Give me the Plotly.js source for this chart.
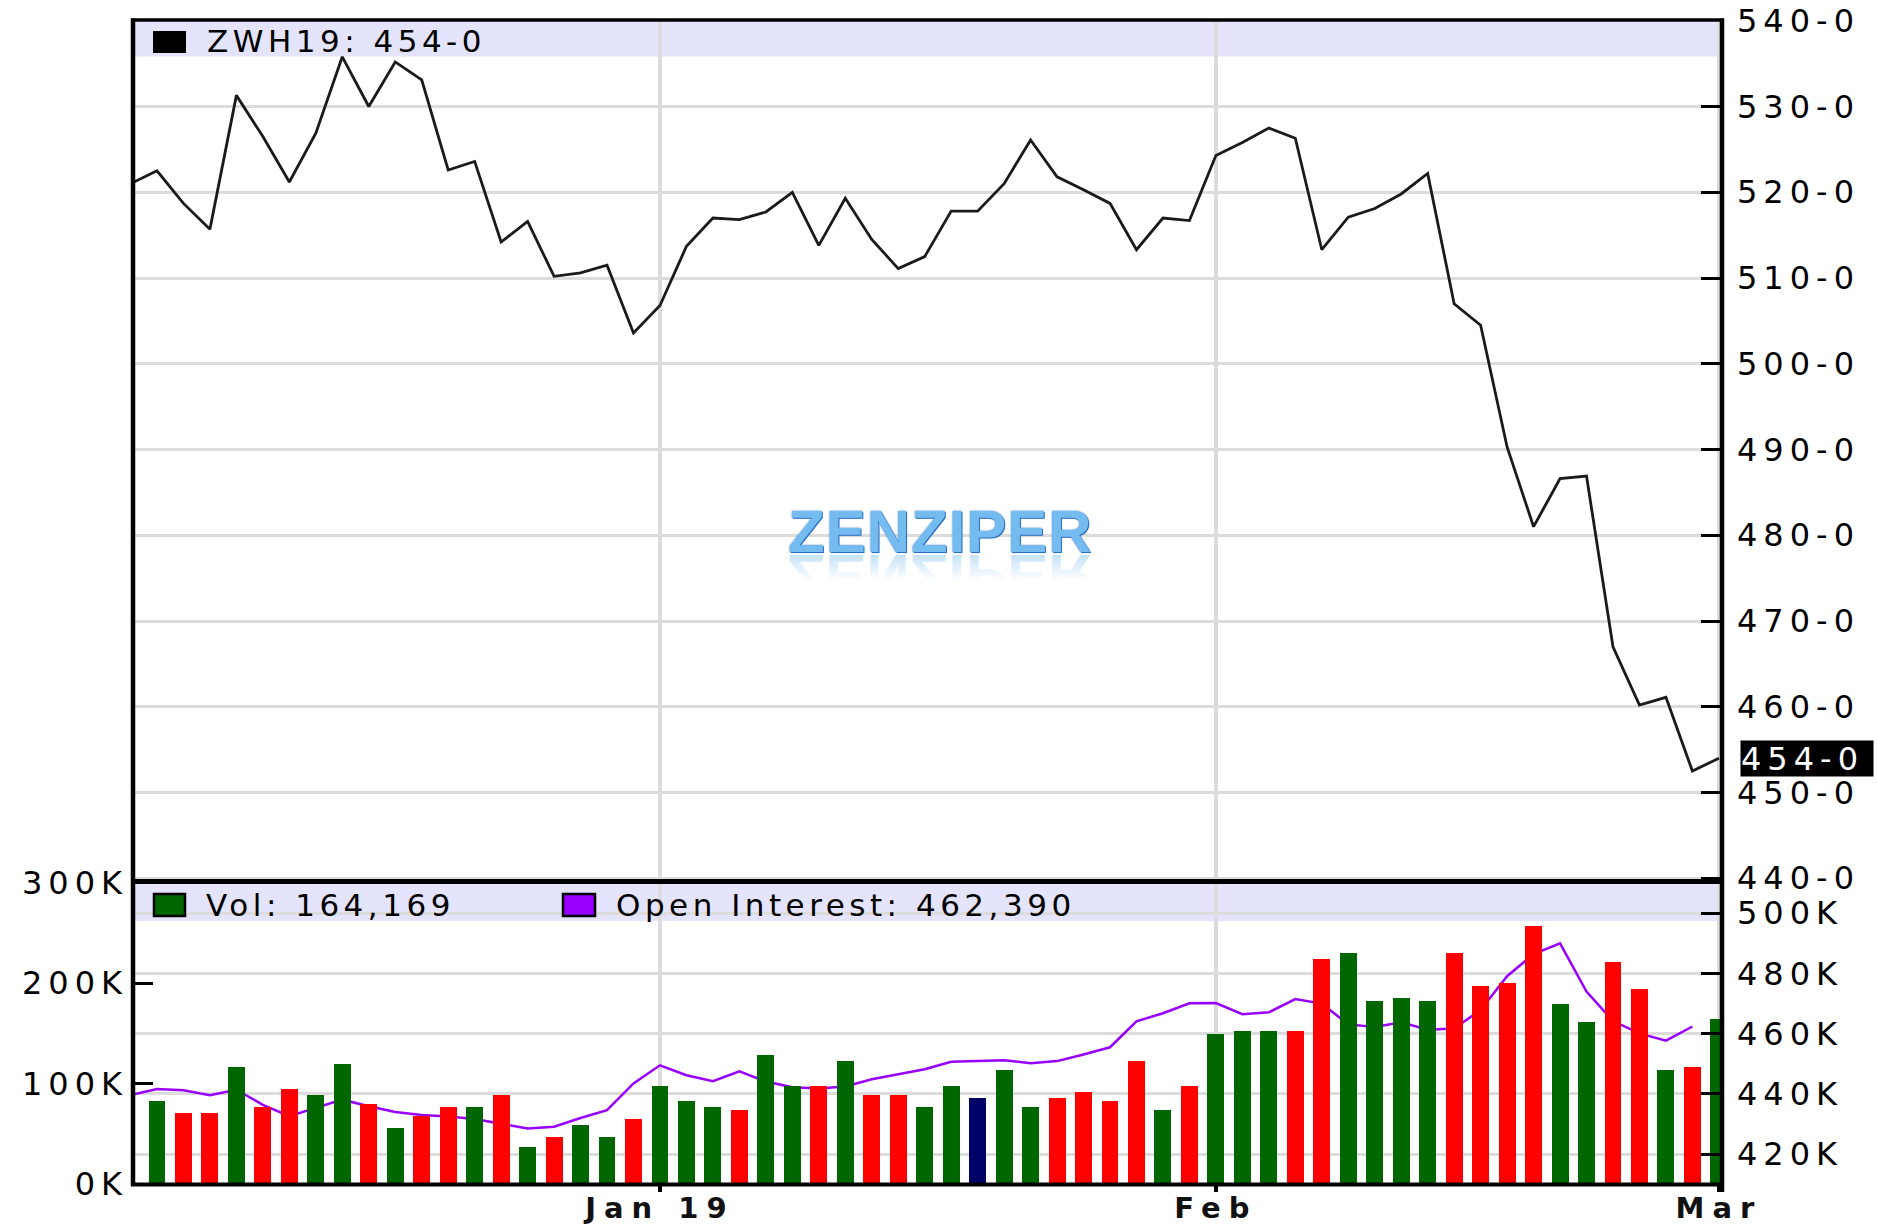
<!DOCTYPE html>
<html>
<head>
<meta charset="utf-8">
<script src="https://cdn.plot.ly/plotly-3.0.1.min.js"></script>
<style>
body { margin: 0; background: #fff; }
#chart .ytick text, #chart .y2tick text, #chart .y3tick text { letter-spacing: 6px; }
#chart .xtick text { letter-spacing: 8px; }
#chart .annotation-text { letter-spacing: 4.5px; }
#chart .annotation[data-index="0"] .annotation-text { letter-spacing: 1px; }
#chart .annotation[data-index="4"] .annotation-text { letter-spacing: 6px; }
</style>
</head>
<body>
<div id="chart" style="width:1877px;height:1228px;"></div>
<script>
// ---------- DATA ----------
const dates = [
  '2018-11-30',
  '2018-12-03','2018-12-04','2018-12-06','2018-12-07','2018-12-10','2018-12-11','2018-12-12','2018-12-13','2018-12-14',
  '2018-12-17','2018-12-18','2018-12-19','2018-12-20','2018-12-21','2018-12-24','2018-12-26','2018-12-27','2018-12-28','2018-12-31',
  '2019-01-02','2019-01-03','2019-01-04','2019-01-07','2019-01-08','2019-01-09','2019-01-10','2019-01-11','2019-01-14','2019-01-15',
  '2019-01-16','2019-01-17','2019-01-18','2019-01-22','2019-01-23','2019-01-24','2019-01-25','2019-01-28','2019-01-29','2019-01-30','2019-01-31',
  '2019-02-01','2019-02-04','2019-02-05','2019-02-06','2019-02-07','2019-02-08','2019-02-11','2019-02-12','2019-02-13','2019-02-14',
  '2019-02-15','2019-02-19','2019-02-20','2019-02-21','2019-02-22','2019-02-25','2019-02-26','2019-02-27','2019-02-28',
  '2019-03-01'
];

// ZWH19 close (cents/bushel)
const closePrice = [
  521.0, 522.5, 518.7, 515.7, 531.3, 526.5, 521.2, 526.9, 535.8, 530.0,
  535.2, 533.1, 522.6, 523.6, 514.2, 516.6, 510.2, 510.6, 511.5, 503.6,
  506.8, 513.7, 517.0, 516.8, 517.7, 520.0, 513.8, 519.3, 514.5, 511.1,
  512.5, 517.8, 517.8, 521.0, 526.1, 521.8, 520.3, 518.7, 513.3, 517.0,
  516.7, 524.3, 525.8, 527.5, 526.3, 513.3, 517.1, 518.1, 519.8, 522.2,
  507.0, 504.5, 490.3, 481.0, 486.6, 486.9, 467.0, 460.2, 461.1, 452.5, 454.0
];

// Volume (thousands of contracts)
const volumeK = [
  null, 83, 71, 71, 116, 77, 95, 89, 119, 80,
  56, 68, 77, 77, 89, 37, 47, 59, 47, 65,
  98, 83, 77, 74, 128, 98, 98, 122, 89, 89,
  77, 98, 86, 113, 77, 86, 92, 83, 122, 74,
  98, 149, 152, 152, 152, 224, 230, 182, 185, 182,
  230, 197, 200, 257, 179, 161, 221, 194, 113, 116, 164.169
];

// Open interest (thousands of contracts)
const openInterestK = [
  439.6, 441.6, 441.2, 439.6, 441.4, 436.4, 432.6, 435.3, 438.1, 435.9,
  434.0, 433.0, 432.5, 431.7, 430.1, 428.5, 429.1, 432.0, 434.6, 443.5,
  449.5, 446.2, 444.2, 447.5, 444.1, 442.2, 441.8, 442.5, 444.9, 446.6,
  448.2, 450.7, 451.0, 451.2, 450.2, 450.9, 453.1, 455.5, 464.1, 466.8,
  470.1, 470.2, 466.5, 467.1, 471.5, 470.0, 463.1, 462.2, 463.8, 461.3,
  461.7, 467.9, 479.1, 486.4, 490.0, 474.0, 464.2, 460.1, 457.7, 462.39, null
];

const priceTicks = [440, 450, 460, 470, 480, 490, 500, 510, 520, 530, 540];
const priceTickText = ['440-0','450-0','460-0','470-0','480-0','490-0','500-0','510-0','520-0','530-0','540-0'];
const volTicks = [0, 100, 200, 300];
const volTickText = ['0K','100K','200K','300K'];
const oiTicks = [420, 440, 460, 480, 500];
const oiTickText = ['420K','440K','460K','480K','500K'];
const monthTicks = ['2019-01-02','2019-02-01','2019-03-01'];
const monthTickText = ['Jan 19','Feb','Mar'];

const symbolLabel = 'ZWH19: 454-0';
const volLabel = 'Vol: 164,169';
const oiLabel = 'Open Interest: 462,390';
const lastPriceLabel = '454-0';
const lastPrice = 454;
const watermark = 'ZENZIPER';

// ---------- STYLE / LAYOUT ----------
const W = 1877, H = 1228;
const px = x => x / W;
const py = y => 1 - y / H;
const FONT = 'DejaVu Sans, Liberation Sans, sans-serif';
const WM_FONT = 'Liberation Sans, Arial, sans-serif';
const UP = '#006600', DOWN = '#ff0000', UNCH = '#000066';

const barColors = volumeK.map((v, i) => {
  if (i === 0) return UP;
  const d = closePrice[i] - closePrice[i - 1];
  return d > 0 ? UP : (d < 0 ? DOWN : UNCH);
});

// mirrored, fading reflection of the watermark (decorative graphic)
const reflSvg =
  '<svg xmlns="http://www.w3.org/2000/svg" width="320" height="46" viewBox="0 0 320 46">' +
  '<defs><linearGradient id="g" x1="0" y1="0" x2="0" y2="1">' +
  '<stop offset="0.42" stop-color="#8cc6f2" stop-opacity="0"/>' +
  '<stop offset="1" stop-color="#8cc6f2" stop-opacity="0.75"/>' +
  '</linearGradient></defs>' +
  '<text x="160" y="0" transform="scale(1,-1)" text-anchor="middle" font-family="Liberation Sans, Arial, sans-serif" ' +
  'font-weight="bold" font-size="60" letter-spacing="1" fill="url(#g)">' + watermark + '</text></svg>';

const traces = [
  { type: 'scatter', mode: 'lines', x: dates, y: openInterestK, xaxis: 'x', yaxis: 'y2',
    line: { color: '#9900ff', width: 2.5 }, connectgaps: false, hoverinfo: 'skip' },
  { type: 'bar', x: dates, y: volumeK, xaxis: 'x', yaxis: 'y3',
    marker: { color: barColors, line: { width: 0 } }, width: 0.64, hoverinfo: 'skip' },
  { type: 'scatter', mode: 'lines', x: dates, y: closePrice, xaxis: 'x', yaxis: 'y',
    line: { color: '#1a1a1a', width: 2.8 }, hoverinfo: 'skip' }
];

const gridColor = '#dcdcdc';
const tickFont = { family: FONT, size: 32, color: '#000' };
const legendFont = { family: FONT, size: 31, color: '#000' };

const layout = {
  width: W, height: H,
  margin: { l: 0, r: 0, t: 0, b: 0 },
  paper_bgcolor: '#fff', plot_bgcolor: '#fff',
  showlegend: false, hovermode: false, dragmode: false,
  bargap: 0,
  xaxis: {
    type: 'category', domain: [px(133), px(1721)], anchor: 'y2',
    range: [0.094, 60.08],
    tickmode: 'array', tickvals: monthTicks, ticktext: monthTickText,
    ticks: 'outside', ticklen: 7, tickwidth: 4, tickcolor: '#000',
    showgrid: true, gridcolor: gridColor, gridwidth: 4,
    showline: false, zeroline: false,
    tickfont: { family: FONT, size: 29, color: '#111', weight: 'bold' },
    ticklabelstandoff: -9
  },
  yaxis: {
    domain: [py(881), py(20)], anchor: 'x', side: 'right',
    range: [439.68, 540.09],
    tickmode: 'array', tickvals: priceTicks, ticktext: priceTickText,
    ticks: 'inside', ticklen: 20, tickwidth: 3, tickcolor: '#000',
    showgrid: true, gridcolor: gridColor, gridwidth: 3,
    showline: false, zeroline: false, tickfont: tickFont,
    ticklabelstandoff: 15
  },
  yaxis2: {
    domain: [py(1184), py(881)], anchor: 'x', side: 'right',
    range: [410.1, 510.7],
    tickmode: 'array', tickvals: oiTicks, ticktext: oiTickText,
    ticks: 'inside', ticklen: 20, tickwidth: 3, tickcolor: '#000',
    showgrid: true, gridcolor: gridColor, gridwidth: 3,
    showline: false, zeroline: false, tickfont: tickFont,
    ticklabelstandoff: 15
  },
  yaxis3: {
    domain: [py(1184), py(881)], anchor: 'x', side: 'left', overlaying: 'y2',
    range: [0, 301.5],
    tickmode: 'array', tickvals: volTicks, ticktext: volTickText,
    ticks: 'inside', ticklen: 20, tickwidth: 3, tickcolor: '#000',
    showgrid: false, showline: false, zeroline: false, tickfont: tickFont,
    ticklabelstandoff: 4
  },
  images: [
    { source: 'data:image/svg+xml;charset=utf-8,' + encodeURIComponent(reflSvg),
      xref: 'paper', yref: 'paper', x: px(940), y: py(555),
      sizex: 320 / W, sizey: 46 / H, xanchor: 'center', yanchor: 'top',
      sizing: 'stretch', layer: 'above' }
  ],
  shapes: [
    // legend bands
    { type: 'rect', xref: 'paper', yref: 'paper', layer: 'between',
      x0: px(135), x1: px(1717), y0: py(56.5), y1: py(21),
      fillcolor: 'rgba(205,205,250,0.55)', line: { width: 0 } },
    { type: 'rect', xref: 'paper', yref: 'paper', layer: 'between',
      x0: px(135), x1: px(1717), y0: py(921), y1: py(884),
      fillcolor: 'rgba(205,205,250,0.55)', line: { width: 0 } },
    // legend swatches
    { type: 'rect', xref: 'paper', yref: 'paper', layer: 'above',
      x0: px(153), x1: px(186), y0: py(53), y1: py(31),
      fillcolor: '#000', line: { width: 0 } },
    { type: 'rect', xref: 'paper', yref: 'paper', layer: 'above',
      x0: px(154), x1: px(185), y0: py(916), y1: py(894),
      fillcolor: UP, line: { color: '#000', width: 2.5 } },
    { type: 'rect', xref: 'paper', yref: 'paper', layer: 'above',
      x0: px(563), x1: px(595), y0: py(916), y1: py(894),
      fillcolor: '#9900ff', line: { color: '#000', width: 2.5 } },
    // frame
    { type: 'line', xref: 'paper', yref: 'paper', layer: 'above',
      x0: px(133), x1: px(133), y0: py(18.5), y1: py(1186), line: { color: '#000', width: 4.5 } },
    { type: 'line', xref: 'paper', yref: 'paper', layer: 'above',
      x0: px(1722), x1: px(1722), y0: py(18.5), y1: py(1192), line: { color: '#000', width: 4.5 } },
    { type: 'line', xref: 'paper', yref: 'paper', layer: 'above',
      x0: px(131), x1: px(1724), y0: py(20), y1: py(20), line: { color: '#000', width: 3.5 } },
    { type: 'line', xref: 'paper', yref: 'paper', layer: 'above',
      x0: px(131), x1: px(1724), y0: py(881.5), y1: py(881.5), line: { color: '#000', width: 5 } },
    { type: 'line', xref: 'paper', yref: 'paper', layer: 'above',
      x0: px(131), x1: px(1724), y0: py(1184.5), y1: py(1184.5), line: { color: '#000', width: 4 } }
  ],
  annotations: [
    { text: watermark, xref: 'paper', yref: 'paper', x: px(940), y: py(531),
      xanchor: 'center', yanchor: 'middle', showarrow: false,
      font: { family: WM_FONT, size: 60, weight: 'bold', color: '#74bcf0',
              shadow: '0px 0px 2px #2a6fc0, 1px 1px 0px #2a6fc0' } },
    { text: symbolLabel, xref: 'paper', yref: 'paper', x: px(205), y: py(41.5),
      xanchor: 'left', yanchor: 'middle', align: 'left', showarrow: false, font: legendFont },
    { text: volLabel, xref: 'paper', yref: 'paper', x: px(204), y: py(904.5),
      xanchor: 'left', yanchor: 'middle', align: 'left', showarrow: false, font: legendFont },
    { text: oiLabel, xref: 'paper', yref: 'paper', x: px(614), y: py(904.5),
      xanchor: 'left', yanchor: 'middle', align: 'left', showarrow: false, font: legendFont },
    { text: lastPriceLabel, xref: 'paper', yref: 'y', x: px(1740), y: lastPrice,
      xanchor: 'left', yanchor: 'middle', showarrow: false,
      bgcolor: '#000', borderpad: 0, width: 132, height: 35, align: 'left',
      font: { family: FONT, size: 32, color: '#fff' } }
  ]
};

Plotly.newPlot('chart', traces, layout, { staticPlot: true, displayModeBar: false });
</script>
</body>
</html>
